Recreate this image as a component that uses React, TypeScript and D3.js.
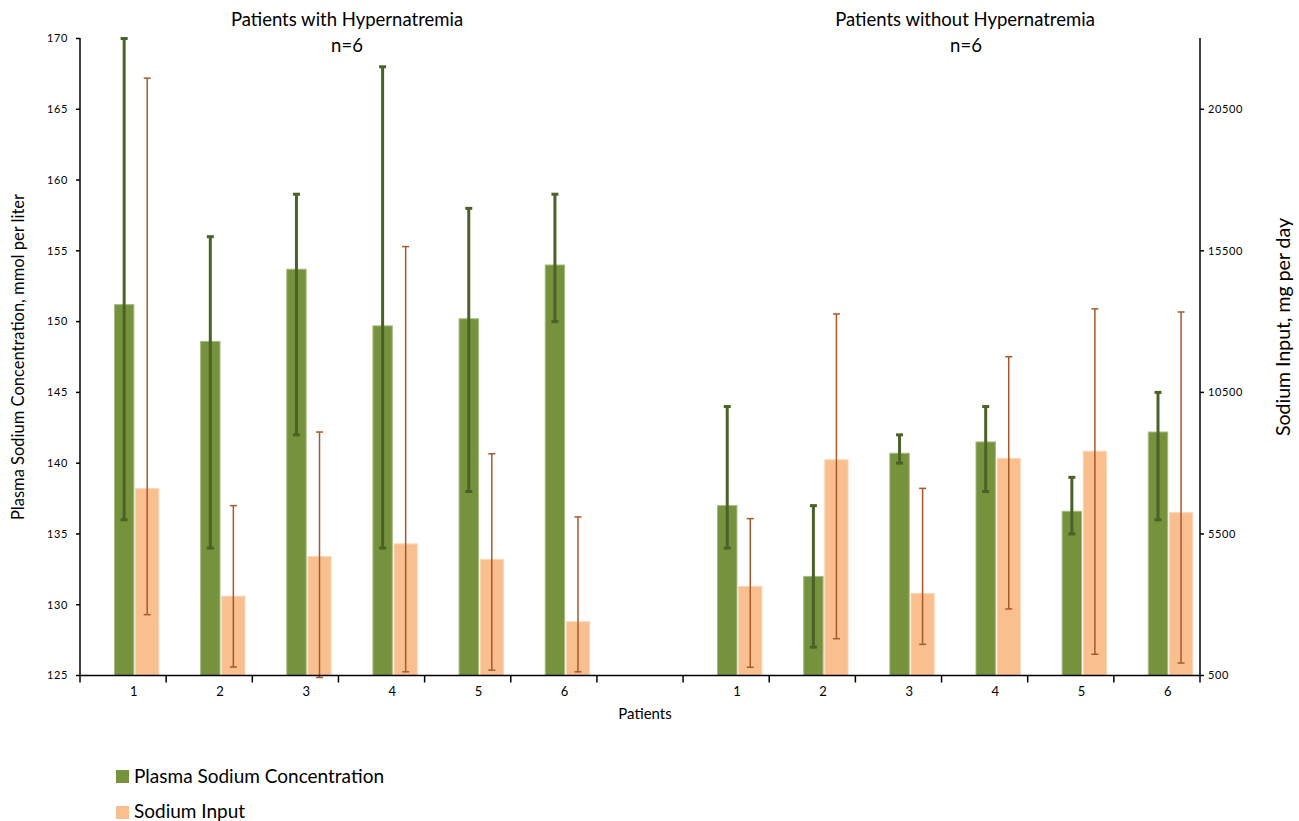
import React from "react";
import * as d3 from "d3";

const groupTitles = ["Patients with Hypernatremia", "Patients without Hypernatremia"];
const groupSubtitle = "n=6";
const patients = ["1", "2", "3", "4", "5", "6"];

// Patients with hypernatremia
const plasmaHyper = [151.2, 148.6, 153.7, 149.7, 150.2, 154.0];
const plasmaHyperLow = [136, 134, 142, 134, 138, 150];
const plasmaHyperHigh = [170, 156, 159, 168, 158, 159];
const inputHyper = [7100, 3300, 4700, 5150, 4600, 2400];
const inputHyperLow = [2650, 800, 430, 630, 690, 630];
const inputHyperHigh = [21600, 6500, 9100, 15650, 8330, 6100];

// Patients without hypernatremia
const plasmaNormo = [137.0, 132.0, 140.7, 141.5, 136.6, 142.2];
const plasmaNormoLow = [134, 127, 140, 138, 135, 136];
const plasmaNormoHigh = [144, 137, 142, 144, 139, 145];
const inputNormo = [3650, 8120, 3400, 8170, 8420, 6250];
const inputNormoLow = [790, 1800, 1600, 2850, 1250, 940];
const inputNormoHigh = [6040, 13270, 7110, 11760, 13450, 13340];

const leftTicks = [125, 130, 135, 140, 145, 150, 155, 160, 165, 170];
const rightTicks = [500, 5500, 10500, 15500, 20500];

const seriesNames = ["Plasma Sodium Concentration", "Sodium Input"];

const GREEN = "#76923c";
const GREEN_EDGE = "#a4bb80";
const GREEN_ERR = "#4a6128";
const ORANGE = "#fabf8f";
const ORANGE_EDGE = "#fcd6b6";
const ORANGE_ERR = "#a9582a";
const FONT = "Lato, 'Open Sans', sans-serif";

type Row = {
  key: string;
  label: string;
  plasma: number;
  plasmaLow: number;
  plasmaHigh: number;
  input: number;
  inputLow: number;
  inputHigh: number;
};

const rows: Row[] = [
  ...patients.map((p, i) => ({
    key: "H" + p,
    label: p,
    plasma: plasmaHyper[i],
    plasmaLow: plasmaHyperLow[i],
    plasmaHigh: plasmaHyperHigh[i],
    input: inputHyper[i],
    inputLow: inputHyperLow[i],
    inputHigh: inputHyperHigh[i],
  })),
  ...patients.map((p, i) => ({
    key: "N" + p,
    label: p,
    plasma: plasmaNormo[i],
    plasmaLow: plasmaNormoLow[i],
    plasmaHigh: plasmaNormoHigh[i],
    input: inputNormo[i],
    inputLow: inputNormoLow[i],
    inputHigh: inputNormoHigh[i],
  })),
];

const categories = [...patients.map((p) => "H" + p), "gap", ...patients.map((p) => "N" + p)];

export default function App() {
  const W = 1299;
  const H = 821;
  const left = 80;
  const right = 1200;
  const top = 38.5;
  const bottom = 675.5;

  const x = d3.scaleBand<string>().domain(categories).range([left, right]).padding(0);
  const bw = x.bandwidth();
  const yL = d3.scaleLinear().domain([125, 170]).range([bottom, top]);
  const yR = d3.scaleLinear().domain([500, 23000]).range([bottom, top]);

  const gX0 = 0.4;
  const gX1 = 0.625;
  const oX0 = 0.645;
  const oX1 = 0.915;
  const labelPos = 0.625;

  const boundaries = d3.range(categories.length + 1).map((k) => left + k * bw);

  return (
    <div style={{ position: "absolute", left: 0, top: 0 }}>
      <svg width={W} height={H} style={{ display: "block", background: "#fff" }}>
        {/* titles */}
        <g fontFamily={FONT} fontSize={18.5} fill="#000" textAnchor="middle">
          <text x={347} y={26}>{groupTitles[0]}</text>
          <text x={347} y={52}>{groupSubtitle}</text>
          <text x={965} y={26}>{groupTitles[1]}</text>
          <text x={966} y={52}>{groupSubtitle}</text>
        </g>

        {/* bars */}
        {rows.map((r) => {
          const b = x(r.key)!;
          return (
            <g key={r.key}>
              <rect
                x={b + gX0 * bw}
                y={yL(r.plasma)}
                width={(gX1 - gX0) * bw}
                height={bottom - yL(r.plasma)}
                fill={GREEN}
                stroke={GREEN_EDGE}
                strokeWidth={1}
              />
              <rect
                x={b + oX0 * bw}
                y={yR(r.input)}
                width={(oX1 - oX0) * bw}
                height={bottom - yR(r.input)}
                fill={ORANGE}
                stroke={ORANGE_EDGE}
                strokeWidth={1}
              />
            </g>
          );
        })}

        {/* error bars */}
        {rows.map((r) => {
          const b = x(r.key)!;
          const gc = b + ((gX0 + gX1) / 2) * bw;
          const oc = b + ((oX0 + oX1) / 2) * bw;
          const gh = yL(r.plasmaHigh);
          const gl = yL(r.plasmaLow);
          const oh = yR(r.inputHigh);
          const ol = yR(r.inputLow);
          return (
            <g key={"e" + r.key}>
              <line x1={gc} x2={gc} y1={gh} y2={gl} stroke={GREEN_ERR} strokeWidth={3} />
              <line x1={gc - 3.5} x2={gc + 3.5} y1={gh} y2={gh} stroke={GREEN_ERR} strokeWidth={3} />
              <line x1={gc - 3.5} x2={gc + 3.5} y1={gl} y2={gl} stroke={GREEN_ERR} strokeWidth={3} />
              <line x1={oc} x2={oc} y1={oh} y2={ol} stroke={ORANGE_ERR} strokeWidth={1.5} />
              <line x1={oc - 3.5} x2={oc + 3.5} y1={oh} y2={oh} stroke={ORANGE_ERR} strokeWidth={1.5} />
              <line x1={oc - 3.5} x2={oc + 3.5} y1={ol} y2={ol} stroke={ORANGE_ERR} strokeWidth={1.5} />
            </g>
          );
        })}

        {/* left axis */}
        <line x1={left} x2={left} y1={top - 0.5} y2={bottom} stroke="#000" strokeWidth={1.5} />
        {leftTicks.map((t) => (
          <g key={"lt" + t}>
            <line x1={left - 4} x2={left} y1={yL(t)} y2={yL(t)} stroke="#000" strokeWidth={1.5} />
            <text
              x={left - 12}
              y={yL(t)}
              dy="0.35em"
              textAnchor="end"
              fontFamily={FONT}
              fontSize={11}
              letterSpacing={0.6}
              fill="#000"
            >
              {t}
            </text>
          </g>
        ))}

        {/* right axis */}
        <line x1={right} x2={right} y1={top - 0.5} y2={bottom} stroke="#000" strokeWidth={1.5} />
        {rightTicks.map((t) => (
          <g key={"rt" + t}>
            <line x1={right} x2={right + 4} y1={yR(t)} y2={yR(t)} stroke="#000" strokeWidth={1.5} />
            <text
              x={right + 8}
              y={yR(t)}
              dy="0.35em"
              textAnchor="start"
              fontFamily={FONT}
              fontSize={11}
              letterSpacing={0.6}
              fill="#000"
            >
              {t}
            </text>
          </g>
        ))}

        {/* bottom axis */}
        <line x1={left} x2={right} y1={bottom} y2={bottom} stroke="#000" strokeWidth={1.5} />
        {boundaries.map((bx, k) => (
          <line key={"bt" + k} x1={bx} x2={bx} y1={bottom} y2={bottom + 7} stroke="#000" strokeWidth={1.5} />
        ))}
        {rows.map((r) => (
          <text
            key={"xl" + r.key}
            x={x(r.key)! + labelPos * bw}
            y={bottom + 20}
            textAnchor="middle"
            fontFamily={FONT}
            fontSize={13}
            fill="#000"
          >
            {r.label}
          </text>
        ))}
        <text x={645} y={719} textAnchor="middle" fontFamily={FONT} fontSize={15} fill="#000">
          Patients
        </text>

        {/* axis titles */}
        <text
          transform={`translate(24, ${(top + bottom) / 2}) rotate(-90)`}
          textAnchor="middle"
          fontFamily={FONT}
          fontSize={16.5}
          fill="#000"
        >
          Plasma Sodium Concentration, mmol per liter
        </text>
        <text
          transform={`translate(1290, ${327}) rotate(-90)`}
          textAnchor="middle"
          fontFamily={FONT}
          fontSize={19.5}
          fill="#000"
        >
          Sodium Input, mg per day
        </text>

        {/* legend */}
        <g fontFamily={FONT} fontSize={19} fill="#000">
          <rect x={116} y={770} width={13} height={13} fill={GREEN} />
          <text x={134} y={783}>{seriesNames[0]}</text>
          <rect x={116} y={806} width={13} height={13} fill={ORANGE} />
          <text x={134} y={818}>{seriesNames[1]}</text>
        </g>
      </svg>
    </div>
  );
}
